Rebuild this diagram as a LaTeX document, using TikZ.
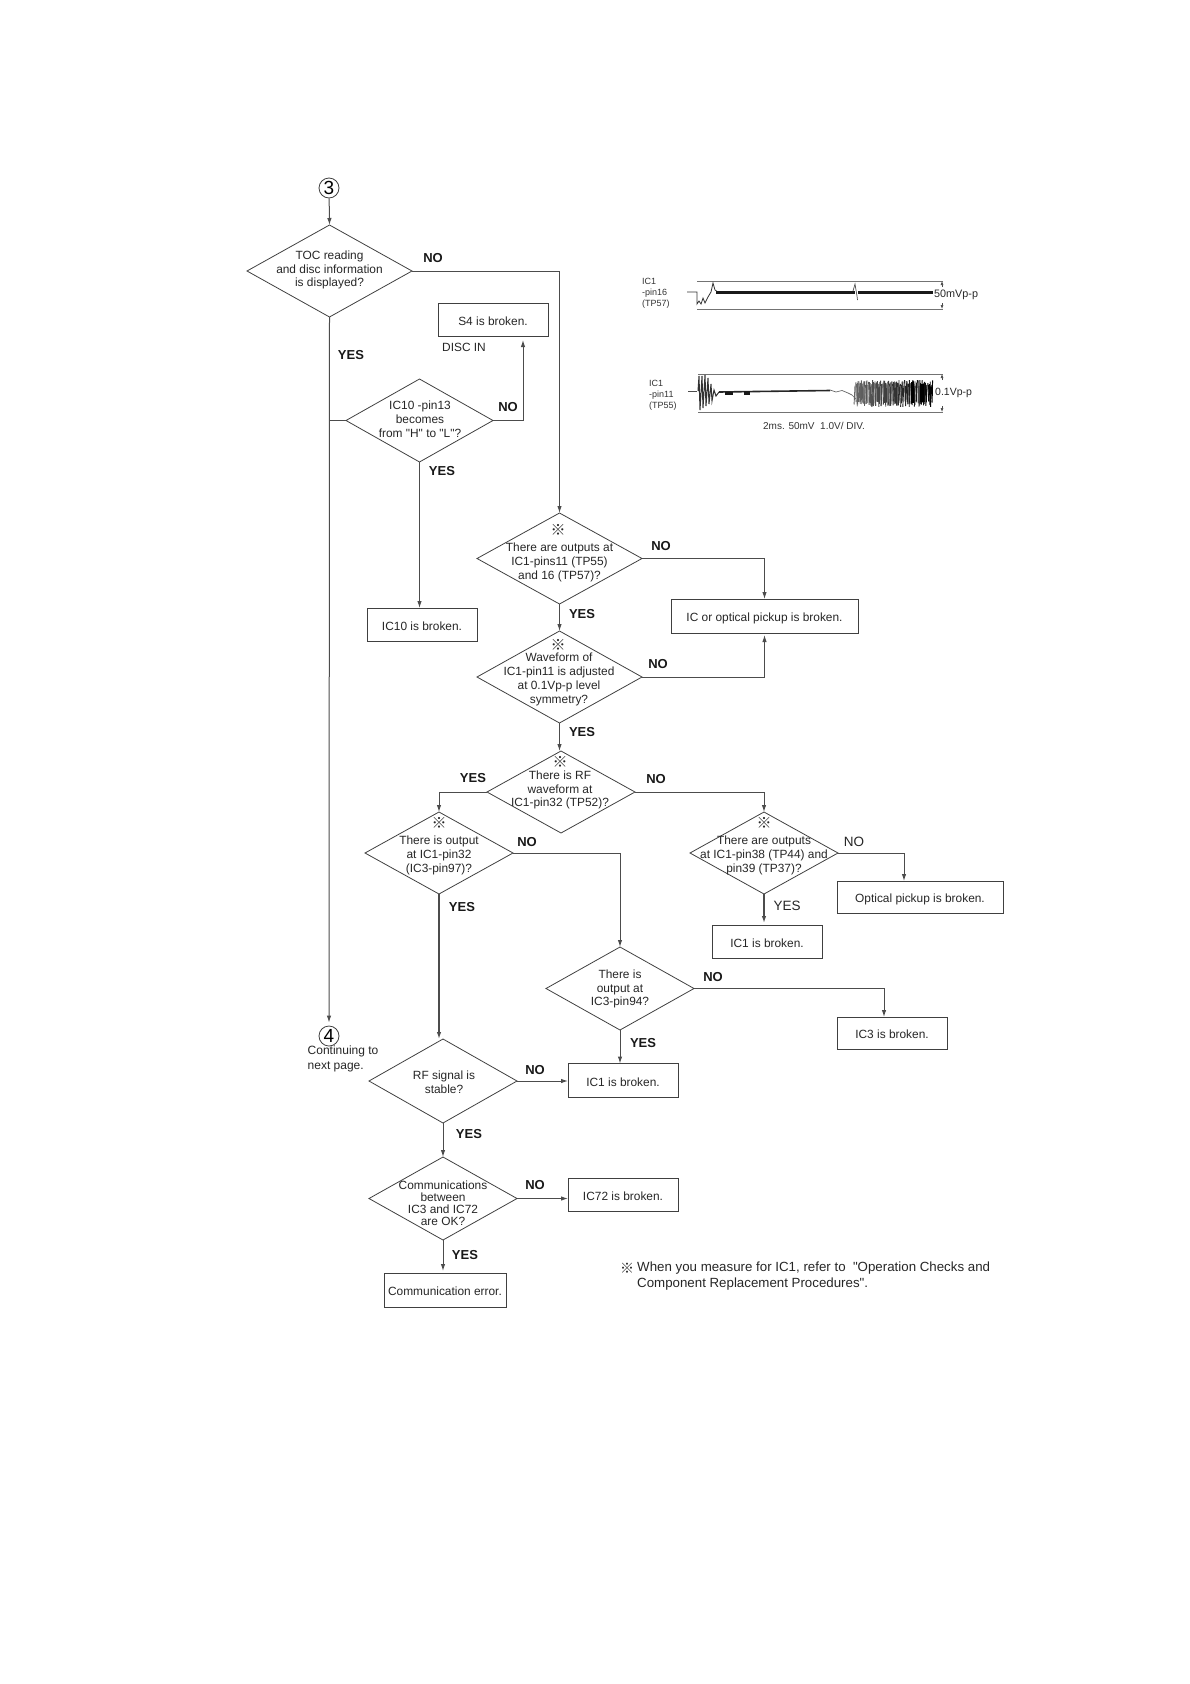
\documentclass[tikz,border=0pt]{standalone}
\usepackage{fontspec}
\setmainfont{Liberation Sans}[Ligatures=TeXOff]
\newfontfamily\refmarkfont{Noto Sans CJK JP}
\usetikzlibrary{shapes.geometric, arrows.meta}
\tikzset{
    question/.style={diamond, draw=black!75, line width=0.8pt, inner sep=0pt, outer sep=0pt},
    qtext/.style={align=center, text=black!85, font=\fontsize{11.9}{13.8}\selectfont},
    brokenbox/.style={rectangle, draw=black!75, line width=0.9pt, inner sep=0pt, outer sep=0pt, minimum width=110, minimum height=33, text height=11pt, text depth=0pt, text=black!85, font=\fontsize{11.9}{14}\selectfont},
    refmark/.style={inner sep=0pt, text=black!85, font=\refmarkfont\bfseries\fontsize{15}{15}\selectfont},
    yesno/.style={inner sep=0pt, text=black!90, font=\bfseries\fontsize{13}{14}\selectfont},
    yesnoplain/.style={inner sep=0pt, text=black!85, font=\fontsize{13.5}{14}\selectfont},
    flowline/.style={draw=black!70, line width=1pt, >={Latex[length=7pt,width=4.5pt]}},
    connector/.style={inner sep=0pt, minimum size=20, circle, draw=black!75, line width=0.8pt, font=\fontsize{19}{19}\selectfont},
    wavelabel/.style={inner sep=0pt, anchor=west, align=left, text=black!80, font=\fontsize{9}{11.2}\selectfont},
    wavevalue/.style={inner sep=0pt, anchor=west, text=black!85, font=\fontsize{10.8}{12}\selectfont},
    frameline/.style={draw=black!55, line width=0.6pt},
}
\begin{document}
\begin{tikzpicture}[x=1pt, y=-1pt]
    \useasboundingbox (0,0) rectangle (1190,1684);

    % Connectors
    \node[connector] (startc) at (329,188) {3};
    \node[connector] (nextc) at (329,1036) {4};
    \node[wavelabel, font=\fontsize{12}{15}\selectfont, text=black!85] (nextt) at (307.5,1059) {Continuing to\\next page.};

    % Left column
    \node[question, minimum width=165, minimum height=92] (tocq) at (329.5,271) {};
    \node[qtext] (toct) at (329.5,270) {TOC reading\\and disc information\\is displayed?};
    \node[question, minimum width=147, minimum height=83] (ic10q) at (419.5,420.5) {};
    \node[qtext] (ic10t) at (420,419) {IC10 -pin13\\becomes\\from "H" to "L"?};
    \node[brokenbox] (s4box) at (493,319.5) {S4 is broken.};
    \node[qtext, anchor=west, inner sep=0pt] (discin) at (442,347) {DISC IN};
    \node[brokenbox] (ic10box) at (422,624.5) {IC10 is broken.};
    \coordinate (s4in) at (523,340);

    % Middle column
    \node[question, minimum width=165, minimum height=91] (outq) at (559.5,558.5) {};
    \node[refmark] (outm) at (558,530) {※};
    \node[qtext] (outt) at (559.5,562.5) {There are outputs at\\IC1-pins11 (TP55)\\and 16 (TP57)?};
    \node[brokenbox, minimum width=187, minimum height=34] (pickupbox) at (764.5,616) {IC or optical pickup is broken.};
    \node[question, minimum width=165, minimum height=92] (waveq) at (559.5,677) {};
    \node[refmark] (wavem) at (558,645) {※};
    \node[qtext] (wavet) at (559,679.5) {Waveform of\\IC1-pin11 is adjusted\\at 0.1Vp-p level\\symmetry?};
    \node[question, minimum width=148, minimum height=82] (rfq) at (561,792) {};
    \node[refmark] (rfm) at (560,762) {※};
    \node[qtext] (rft) at (560,790) {There is RF\\waveform at\\IC1-pin32 (TP52)?};

    % Branch of pin 32
    \node[question, minimum width=148, minimum height=82] (pin32q) at (439,853) {};
    \node[refmark] (pin32m) at (439,823) {※};
    \node[qtext] (pin32t) at (439,855.5) {There is output\\at IC1-pin32\\(IC3-pin97)?};
    \node[question, minimum width=148, minimum height=83] (pin94q) at (620,988.5) {};
    \node[qtext] (pin94t) at (620,989) {There is\\output at\\IC3-pin94?};
    \node[brokenbox, minimum height=34] (ic1lowbox) at (623,1080.5) {IC1 is broken.};
    \node[brokenbox, minimum height=32] (ic3box) at (892,1033) {IC3 is broken.};
    \coordinate (ic3in) at (884,1017);

    % Branch of pins 38 and 39
    \node[question, minimum width=148, minimum height=82] (pin38q) at (764,853) {};
    \node[refmark] (pin38m) at (764,823) {※};
    \node[qtext] (pin38t) at (764,855.5) {There are outputs\\at IC1-pin38 (TP44) and\\pin39 (TP37)?};
    \node[brokenbox, minimum width=166, minimum height=32] (opticalbox) at (920,897) {Optical pickup is broken.};
    \node[brokenbox] (ic1highbox) at (767,941.5) {IC1 is broken.};
    \coordinate (opticalin) at (904,881);

    % Bottom of the chart
    \node[question, minimum width=148, minimum height=84] (stableq) at (443,1081) {};
    \node[qtext] (stablet) at (444,1082.5) {RF signal is\\stable?};
    \node[question, minimum width=148, minimum height=83] (commq) at (443,1198.5) {};
    \node[qtext, font=\fontsize{11.9}{11.9}\selectfont] (commt) at (443,1203) {Communications\\between\\IC3 and IC72\\are OK?};
    \node[brokenbox] (ic72box) at (623,1195) {IC72 is broken.};
    \node[brokenbox, minimum width=122, minimum height=34] (commbox) at (445,1290) {Communication error.};

    % Arrows
    \draw[flowline, ->] (startc) -- (tocq.north);
    \draw[flowline, ->, shorten >=3pt] (tocq.south) -- (nextc.north);
    \draw[flowline] (ic10q.west) -- (ic10q.west -| tocq.south);
    \draw[flowline, ->] (tocq.east) -| (outq.north);
    \draw[flowline, ->] (ic10q.east) -| (s4in);
    \draw[flowline, ->] (ic10q.south) -- (ic10q.south |- ic10box.north);
    \draw[flowline, ->] (outq.east) -| (pickupbox.north);
    \draw[flowline, ->, shorten >=2pt] (waveq.east) -| (pickupbox.south);
    \draw[flowline, ->] (outq.south) -- (outq.south |- waveq.north);
    \draw[flowline, ->] (waveq.south) -- (waveq.south |- rfq.north);
    \draw[flowline, ->] (rfq.west) -| (pin32q.north);
    \draw[flowline, ->] (rfq.east) -| (pin38q.north);
    \draw[flowline, ->] (pin32q.east) -| (pin94q.north);
    \draw[flowline, ->, line width=1.3pt] (pin32q.south) -- (pin32q.south |- stableq.north);
    \draw[flowline, ->] (pin38q.east) -| (opticalin);
    \draw[flowline, ->, line width=1.3pt, shorten >=2pt] (pin38q.south) -- (pin38q.south |- ic1highbox.north);
    \draw[flowline, ->] (pin94q.east) -| (ic3in);
    \draw[flowline, ->] (pin94q.south) -- (pin94q.south |- ic1lowbox.north);
    \draw[flowline, ->] (stableq.east) -- (stableq.east -| ic1lowbox.west);
    \draw[flowline, ->] (stableq.south) -- (commq.north);
    \draw[flowline, ->] (commq.east) -- (commq.east -| ic72box.west);
    \draw[flowline, ->, shorten >=2pt] (commq.south) -- (commq.south |- commbox.north);

    % Labels
    \node[yesno] (tocno) at (433,258) {NO};
    \node[yesno] (tocyes) at (351,355) {YES};
    \node[yesno] (ic10no) at (508,407) {NO};
    \node[yesno] (ic10yes) at (442,471) {YES};
    \node[yesno] (outno) at (661,546) {NO};
    \node[yesno] (outyes) at (582,614) {YES};
    \node[yesno] (waveno) at (658,664.5) {NO};
    \node[yesno] (waveyes) at (582,732.5) {YES};
    \node[yesno] (rfyes) at (473,778.5) {YES};
    \node[yesno] (rfno) at (656,779.5) {NO};
    \node[yesno] (pin32no) at (527,842) {NO};
    \node[yesno] (pin32yes) at (462,907) {YES};
    \node[yesnoplain] (pin38no) at (854,842) {NO};
    \node[yesnoplain] (pin38yes) at (787,905.5) {YES};
    \node[yesno] (pin94no) at (713,977) {NO};
    \node[yesno] (pin94yes) at (643,1043) {YES};
    \node[yesno] (stableno) at (535,1070) {NO};
    \node[yesno] (stableyes) at (469,1134) {YES};
    \node[yesno] (commno) at (535,1185) {NO};
    \node[yesno] (commyes) at (465,1255) {YES};

    % Note
    \node[refmark, anchor=west, font=\refmarkfont\bfseries\fontsize{14}{14}\selectfont] (notem) at (620,1268) {※};
    \node[wavelabel, font=\fontsize{13.3}{16}\selectfont, text=black!85] (notet) at (637,1276) {When you measure for IC1, refer to \ "Operation Checks and\\Component Replacement Procedures".};

    % Upper waveform
    \node[wavelabel] (wavea) at (642,293) {IC1\\-pin16\\(TP57)};
    \draw[frameline] (697,281) -- (943,281);
    \draw[frameline] (697,309) -- (943,309);
    \draw[black!80, line width=0.8pt] (687,292) -- (697,292) -- (697,304) -- (699,301) -- (701,304) -- (703,298) -- (705,303) -- (708,297) -- (711,292) -- (713,283) -- (715,290) -- (718,292);
    \draw[black!90, line width=2.6pt] (716,292.3) -- (855,292.3);
    \draw[black!90, line width=2.8pt] (858,292.3) -- (933,292.3);
    \draw[black!70, line width=0.7pt] (853,291) -- (855,284) -- (857,296) -- (857.5,300);
    \draw[-{Latex[length=4pt,width=3pt]}, black!70, line width=0.6pt] (942,287) -- (942,281);
    \draw[-{Latex[length=4pt,width=3pt]}, black!70, line width=0.6pt] (942,303) -- (942,309);
    \node[wavevalue] (valuea) at (934,295) {50mVp-p};

    % Lower waveform
    \node[wavelabel] (waveb) at (649,395) {IC1\\-pin11\\(TP55)};
    \draw[frameline] (698,374) -- (943,374);
    \draw[frameline] (698,412) -- (943,412);
    \draw[black!70, line width=0.7pt] (688,391) -- (697,391);
    \draw[black!80, line width=1pt] (698,391) -- (699,376) -- (700,410) -- (702,376) -- (703,408) -- (705,375) -- (706,406) -- (708,378) -- (709,404) -- (711,384) -- (712,401) -- (714,390) -- (716,396) -- (719,392);
    \draw[black!85, line width=1.6pt] (719,392) -- (830,390.5);
    \draw[black!90, line width=3pt] (725,393) -- (733,393);
    \draw[black!90, line width=3.4pt] (744,393) -- (750,393);
    \draw[black!60, line width=0.7pt] (830,390) -- (836,392) -- (842,390.5) -- (848,393) -- (852,395) -- (856,399);
    \pgfmathsetseed{11}
    \foreach \fx in {855,855.8,...,933} {
        \draw[black!\fpeval{trunc(60+40*(\fx-855)/78)}, line width=0.9pt] (\fx,{380+6*rnd}) -- ({\fx+2*rnd-1},{401+6*rnd});
    }
    \draw[black, line width=3pt] (912,382) -- (912,403);
    \draw[black, line width=4pt] (922,384) -- (922,402);
    \draw[-{Latex[length=4pt,width=3pt]}, black!70, line width=0.6pt] (942,380) -- (942,374);
    \draw[-{Latex[length=4pt,width=3pt]}, black!70, line width=0.6pt] (942,406) -- (942,412);
    \node[wavevalue, font=\fontsize{10.5}{12}\selectfont] (valueb) at (935,393) {0.1Vp-p};
    \node[wavelabel, anchor=center, font=\fontsize{10}{12}\selectfont] (scalet) at (814,426) {2ms. 50mV \ 1.0V/ DIV.};
\end{tikzpicture}
\end{document}
